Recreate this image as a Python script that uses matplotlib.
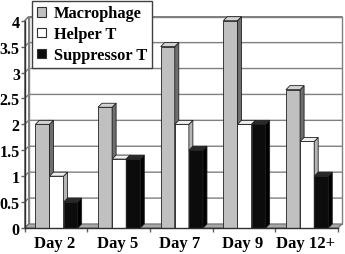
import matplotlib
matplotlib.use("Agg")
from matplotlib import pyplot as plt
from matplotlib.patches import Polygon, Patch

days = ["Day 2", "Day 5", "Day 7", "Day 9", "Day 12+"]
macrophage = [2.0, 2.33, 3.5, 4.0, 2.67]
helper_t = [1.0, 1.33, 2.0, 2.0, 1.67]
suppressor_t = [0.5, 1.33, 1.5, 2.0, 1.0]
series_names = ["Macrophage", "Helper T", "Suppressor T"]
y_ticks = [0, 0.5, 1, 1.5, 2, 2.5, 3, 3.5, 4]

# (front, side, top) colours for each series
colours = [("#c0c0c0", "#6e6e6e", "#d4d4d4"),
           ("#ffffff", "#b4b4b4", "#f0f0f0"),
           ("#0c0c0c", "#000000", "#2a2a2a")]

plt.rcParams["font.family"] = ["Liberation Serif", "DejaVu Serif"]
plt.rcParams["font.weight"] = "bold"

fig = plt.figure(figsize=(3.45, 2.55), dpi=100)
ax = fig.add_axes([24.7 / 345, 26 / 255, 313.3 / 345, 207.3 / 255])
ax.set_xlim(0, len(days))
ax.set_ylim(0, 4)

# depth of the fake 3d effect, 4 px converted to data units
dx = 4 * len(days) / ax.bbox.width
dy = 4 * 4 / ax.bbox.height
top_y = y_ticks[-1]
right_x = len(days)

# walls and floor
ax.add_patch(Polygon([(dx, dy), (right_x + dx, dy), (right_x + dx, top_y + dy), (dx, top_y + dy)],
                     closed=True, facecolor="white", edgecolor="#808080", lw=1, zorder=0, clip_on=False))
ax.add_patch(Polygon([(0, 0), (dx, dy), (dx, top_y + dy), (0, top_y)],
                     closed=True, facecolor="white", edgecolor="#808080", lw=1, zorder=0, clip_on=False))
ax.add_patch(Polygon([(0, 0), (right_x, 0), (right_x + dx, dy), (dx, dy)],
                     closed=True, facecolor="#a8a8a8", edgecolor="#707070", lw=0.8, zorder=1, clip_on=False))
for v in y_ticks[1:]:
    ax.plot([0, dx, right_x + dx], [v, v + dy, v + dy], color="#808080", lw=1, zorder=0.5, clip_on=False)

# bars
start, width = 0.17, 0.225
for i in range(len(days)):
    for k, values in enumerate([macrophage, helper_t, suppressor_t]):
        front, side, top = colours[k]
        x0 = i + start + k * width
        x1 = x0 + width
        h = values[i]
        ax.add_patch(Polygon([(x0, 0), (x1, 0), (x1, h), (x0, h)], closed=True,
                             facecolor=front, edgecolor="#202020", lw=0.6, zorder=2 + k, clip_on=False))
        ax.add_patch(Polygon([(x1, 0), (x1 + dx, dy), (x1 + dx, h + dy), (x1, h)], closed=True,
                             facecolor=side, edgecolor="#202020", lw=0.6, zorder=2 + k, clip_on=False))
        ax.add_patch(Polygon([(x0, h), (x1, h), (x1 + dx, h + dy), (x0 + dx, h + dy)], closed=True,
                             facecolor=top, edgecolor="#202020", lw=0.6, zorder=2 + k, clip_on=False))

for side_name in ["top", "right"]:
    ax.spines[side_name].set_visible(False)
for side_name in ["left", "bottom"]:
    ax.spines[side_name].set_color("#303030")
    ax.spines[side_name].set_linewidth(1)
    ax.spines[side_name].set_zorder(6)

ax.set_yticks(y_ticks)
ax.set_yticklabels(["0", "0.5", "1", "1.5", "2", "2.5", "3", "3.5", "4"])
ax.set_xticks(range(len(days) + 1))
ax.set_xticklabels([])
ax.set_xticks([i + 0.48 for i in range(len(days))], minor=True)
ax.set_xticklabels(days, minor=True)
ax.tick_params(axis="x", which="major", length=3, width=1, color="#606060")
ax.tick_params(axis="x", which="minor", length=0, pad=5, labelsize=12)
ax.tick_params(axis="y", length=3, width=1, pad=0.5, labelsize=11.5, color="#606060")

handles = [Patch(facecolor=colours[k][0], edgecolor="#303030", lw=0.8, label=series_names[k]) for k in range(3)]
leg = fig.legend(handles=handles, loc="upper left", bbox_to_anchor=(32 / 345, 1 - 1.5 / 255),
                 borderaxespad=0, fancybox=False, framealpha=1, edgecolor="#404040",
                 prop={"size": 11.8, "weight": "bold"}, handlelength=0.55, handleheight=0.55,
                 handletextpad=0.5, labelspacing=0.3, borderpad=0.3)
leg.get_frame().set_linewidth(1)
leg.set_zorder(10)

fig.savefig("out.png", dpi=100)
